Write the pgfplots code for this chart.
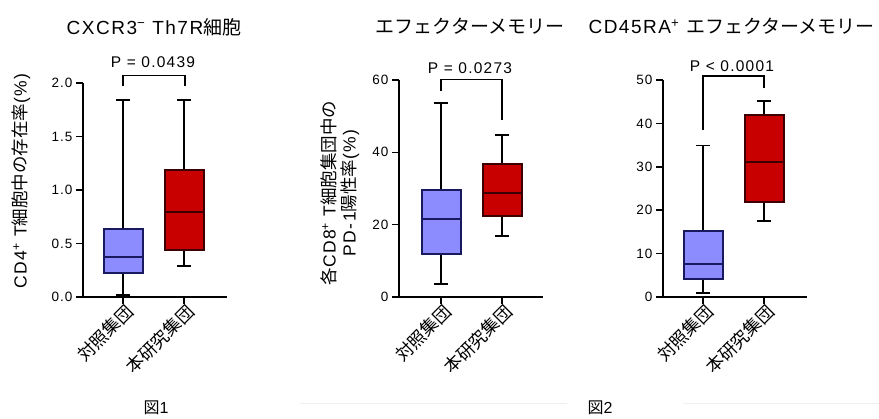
\documentclass[border=0pt]{standalone}
\usepackage{pgfplots}
\pgfplotsset{compat=1.18}
\usepgfplotslibrary{statistics}
\usepackage{fontspec}
\setmainfont{Liberation Sans}[LetterSpace=8]
\newfontfamily\cjk{Noto Sans CJK JP}
\definecolor{ctrlfill}{RGB}{140,140,255}
\definecolor{ctrldraw}{RGB}{25,25,95}
\definecolor{studyfill}{RGB}{200,0,0}
\definecolor{studydraw}{RGB}{60,0,0}
\pgfplotsset{gp/.style={
  scale only axis, width=144pt, xmin=0, xmax=144, ymin=0,
  enlargelimits=false, clip=false,
  axis x line*=bottom, axis y line*=left,
  axis line style={line width=1.6pt,-},
  every tick/.style={line width=1.6pt,black},
  tick align=outside, major tick length=7pt,
  minor tick num=0,
  /pgf/number format/assume math mode=true,
  yticklabel style={font=\fontsize{13.5}{14}\selectfont},
  xticklabel style={rotate=45, anchor=east, font=\fontsize{17.5}{17.5}\selectfont\cjk, inner sep=1pt, xshift=3pt, yshift=-8pt},
  boxplot/draw direction=y,
  boxplot/every whisker/.style={draw=black, line width=1.8pt},
  boxplot/every median/.style={line width=2pt},
  boxplot/every box/.style={line width=2pt},
  bx/.style={line width=2pt, solid},
}}
\begin{document}
\begin{tikzpicture}
\useasboundingbox (0,0) rectangle (879pt,419pt);
% faint separators
\draw[gray!12, line width=0.6pt] (300pt,16pt) -- (567pt,16pt);
\draw[gray!12, line width=0.6pt] (683pt,16pt) -- (879pt,16pt);

% ---------- Plot 1 ----------
\begin{axis}[gp, at={(83pt,122pt)}, anchor=south west, height=214pt, ymax=2,
  ytick={0,0.5,1,1.5,2},
  yticklabel style={/pgf/number format/fixed, /pgf/number format/fixed zerofill, /pgf/number format/precision=1},
  xtick={40,101}, xticklabels={対照集団,本研究集団}]
\addplot[bx, draw=ctrldraw, fill=ctrlfill, boxplot prepared={draw position=40,
  lower whisker=0.02, lower quartile=0.22, median=0.37, upper quartile=0.64, upper whisker=1.84,
  box extend=39, whisker extend=14}] coordinates {};
\addplot[bx, draw=studydraw, fill=studyfill, boxplot prepared={draw position=101,
  lower whisker=0.29, lower quartile=0.44, median=0.79, upper quartile=1.19, upper whisker=1.84,
  box extend=39, whisker extend=14}] coordinates {};
\draw[line width=1.3pt] (axis cs:40,1.97) -- (axis cs:40,2.07) -- (axis cs:102,2.07) -- (axis cs:102,1.97);
\node[font=\fontsize{15.5}{16}\selectfont] at (axis cs:70,2.19) {P = 0.0439};
\end{axis}

% ---------- Plot 2 ----------
\begin{axis}[gp, at={(399pt,122pt)}, anchor=south west, height=217pt, ymax=60,
  ytick={0,20,40,60},
  xtick={42,103}, xticklabels={対照集団,本研究集団}]
\addplot[bx, draw=ctrldraw, fill=ctrlfill, boxplot prepared={draw position=42,
  lower whisker=3.5, lower quartile=12.0, median=21.5, upper quartile=29.5, upper whisker=53.6,
  box extend=39, whisker extend=14}] coordinates {};
\addplot[bx, draw=studydraw, fill=studyfill, boxplot prepared={draw position=103,
  lower whisker=16.9, lower quartile=22.4, median=28.8, upper quartile=36.8, upper whisker=44.9,
  box extend=39, whisker extend=14}] coordinates {};
\draw[line width=1.3pt] (axis cs:42,57.0) -- (axis cs:42,60.2) -- (axis cs:103,60.2) -- (axis cs:103,48.8);
\node[font=\fontsize{15.5}{16}\selectfont] at (axis cs:71,63.4) {P = 0.0273};
\end{axis}

% ---------- Plot 3 ----------
\begin{axis}[gp, at={(663pt,122pt)}, anchor=south west, height=217pt, ymax=50,
  ytick={0,10,20,30,40,50},
  xtick={40,101}, xticklabels={対照集団,本研究集団}]
\addplot[bx, draw=ctrldraw, fill=ctrlfill, boxplot prepared={draw position=40,
  lower whisker=1.0, lower quartile=4.1, median=7.5, upper quartile=15.3, upper whisker=34.9,
  box extend=39, whisker extend=14}] coordinates {};
\addplot[bx, draw=studydraw, fill=studyfill, boxplot prepared={draw position=101,
  lower whisker=17.6, lower quartile=21.8, median=31.2, upper quartile=41.9, upper whisker=45.2,
  box extend=39, whisker extend=14}] coordinates {};
\draw[line width=1.3pt] (axis cs:40,38.5) -- (axis cs:40,50.9) -- (axis cs:101,50.9) -- (axis cs:101,48.1);
\node[font=\fontsize{15.5}{16}\selectfont] at (axis cs:69,53.3) {P < 0.0001};
\end{axis}

% ---------- titles ----------
\node[font=\fontsize{19}{19}\selectfont] at (154pt,392pt) {CXCR3\textsuperscript{−} Th7R{\cjk 細胞}};
\node[font=\fontsize{19}{19}\selectfont\cjk] at (470pt,393pt) {エフェクターメモリー};
\node[font=\fontsize{19}{19}\selectfont, anchor=west] at (585pt,393pt) {CD45RA\textsuperscript{+} {\cjk エフェクターメモリー}};

% ---------- y labels ----------
\node[font=\fontsize{17.5}{17.5}\selectfont, rotate=90] at (21pt,238pt) {CD4\textsuperscript{+} T{\cjk 細胞中の存在率}(\%)};
\node[font=\fontsize{17.5}{17.5}\selectfont, rotate=90] at (329pt,226pt) {{\cjk 各}CD8\textsuperscript{+} T{\cjk 細胞集団中の}};
\node[font=\fontsize{17.5}{17.5}\selectfont, rotate=90] at (350pt,226pt) {PD-1{\cjk 陽性率}(\%)};

% ---------- captions ----------
\node[font=\fontsize{16}{16}\selectfont] at (156pt,11pt) {{\cjk 図}1};
\node[font=\fontsize{16}{16}\selectfont] at (600pt,11pt) {{\cjk 図}2};
\end{tikzpicture}
\end{document}
